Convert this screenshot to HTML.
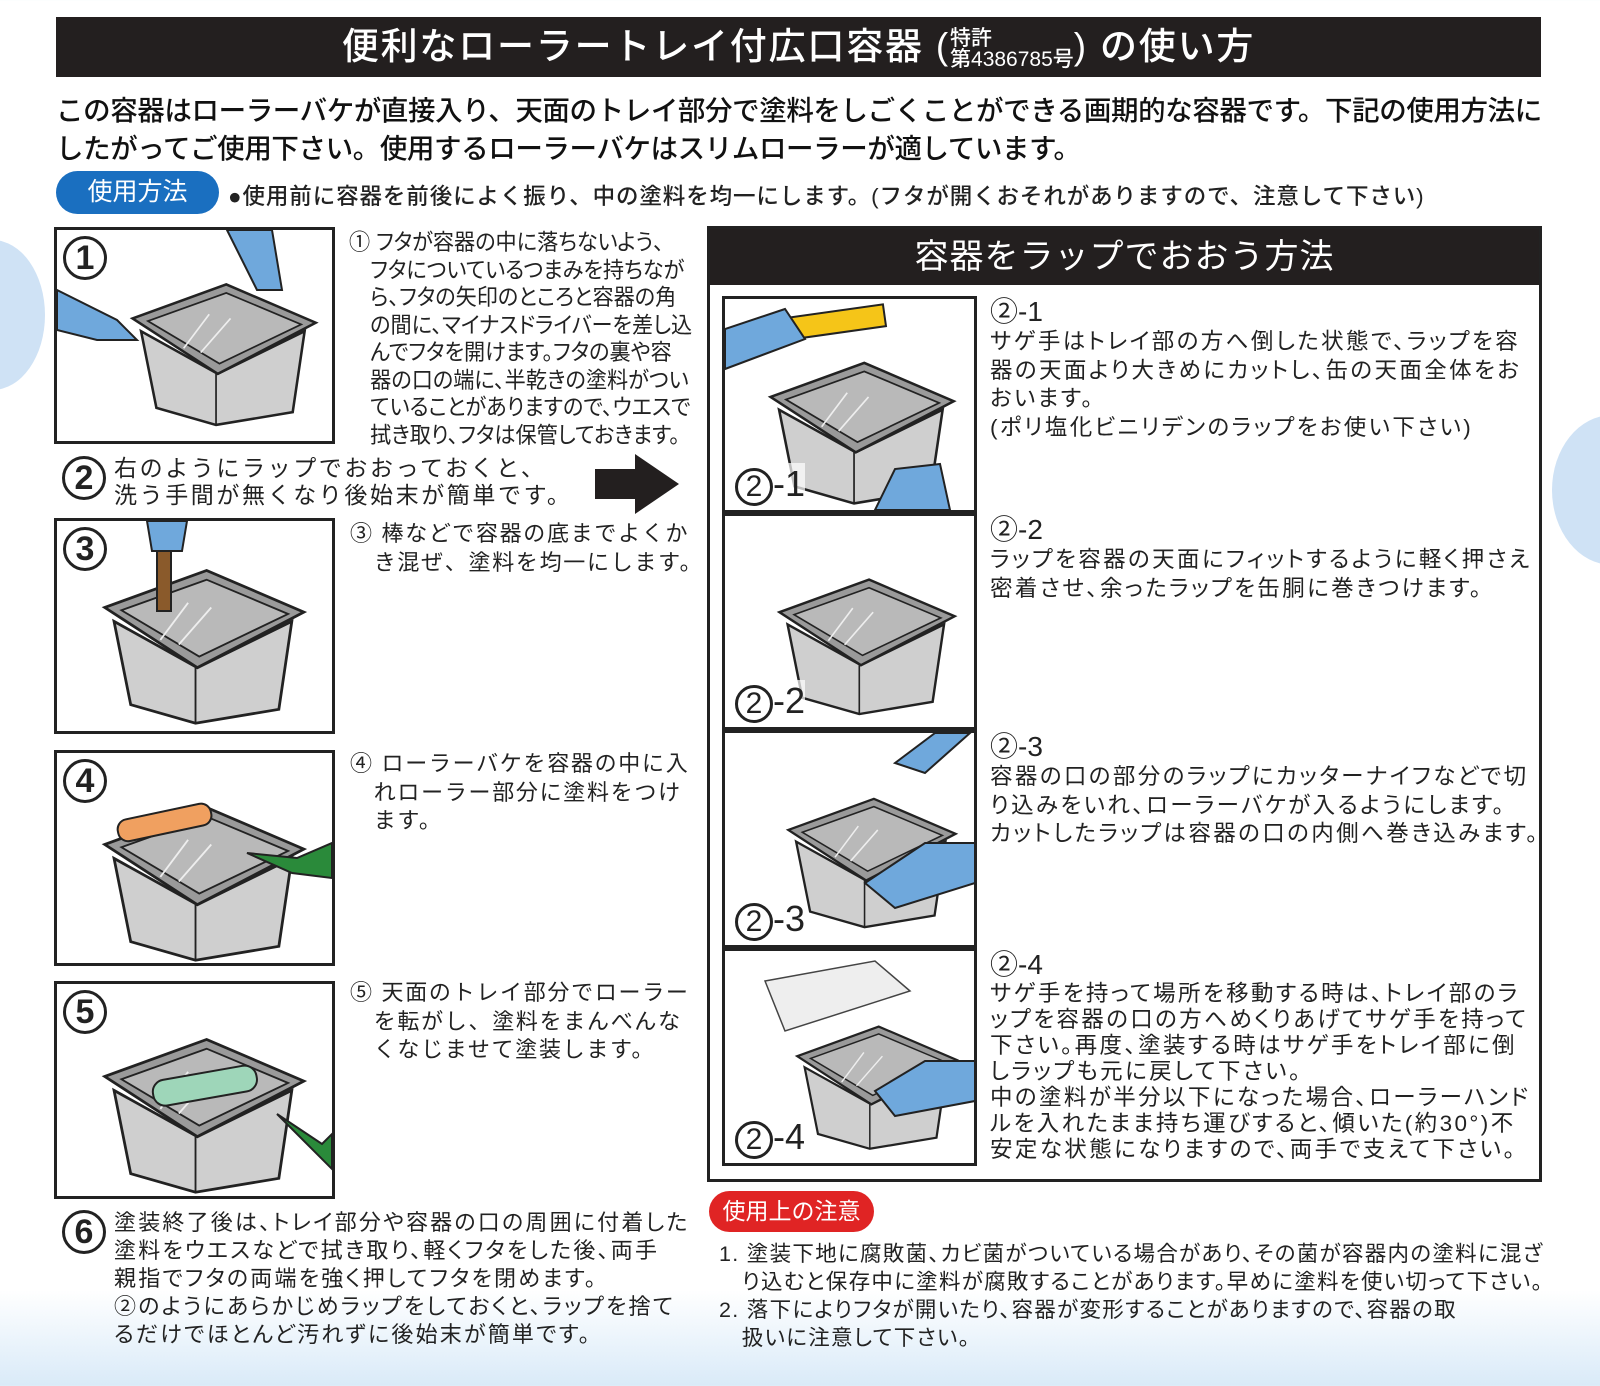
<!DOCTYPE html>
<html><head><meta charset="utf-8">
<style>
*{margin:0;padding:0;box-sizing:border-box}
body{width:1600px;height:1386px;position:relative;overflow:hidden;background:linear-gradient(#fff 0,#fff 1290px,#d9eaf8 1386px);font-family:"Liberation Sans","Noto Sans CJK JP",sans-serif;color:#222}
.a{position:absolute;white-space:nowrap}
.t{font-size:21.5px;line-height:28.5px;letter-spacing:.3px}
.box{position:absolute;border:3px solid #222;background:#fff;overflow:hidden}
.num{position:absolute;left:6px;top:6px;width:44px;height:44px;border:3px solid #222;border-radius:50%;background:#fff;font-size:34px;line-height:38px;text-align:center;font-weight:bold}
.cell{position:absolute;left:722px;width:255px;border:3px solid #222;background:#fff;overflow:hidden}
.lab{position:absolute;left:10px;bottom:4px;font-size:36px;font-weight:500;background:rgba(255,255,255,.7)}
.lab span{display:inline-block;width:38px;height:38px;border:3px solid #222;border-radius:50%;text-align:center;line-height:32px;font-size:30px}
h3{font-weight:400;font-size:28px;line-height:32px;letter-spacing:0}
.r{font-size:22.5px;letter-spacing:2.4px;font-feature-settings:"palt"}
.s{font-size:22px;letter-spacing:1.7px}
</style></head><body>
<svg width="0" height="0" style="position:absolute">
<symbol id="bk" viewBox="0 0 270 210">
<polygon points="40,100 130,150 232,100 218,195 128,210 58,190" fill="#cfcfcf" stroke="#222" stroke-width="3"/>
<polygon points="30,85 140,45 245,90 130,150" fill="#9a9a9a" stroke="#222" stroke-width="3"/>
<polygon points="48,88 140,55 228,92 132,138" fill="#b9b9b9" stroke="#222" stroke-width="2"/>
<line x1="128" y1="150" x2="128" y2="210" stroke="#222" stroke-width="2"/>
<line x1="90" y1="120" x2="120" y2="80" stroke="#eee" stroke-width="2"/>
<line x1="110" y1="125" x2="145" y2="85" stroke="#eee" stroke-width="2"/>
</symbol>
</svg>
<div style="position:absolute;left:-60px;top:240px;width:105px;height:150px;border-radius:50%;background:#cfe2f5"></div>
<div style="position:absolute;left:1552px;top:415px;width:120px;height:150px;border-radius:50%;background:#cfe2f5"></div>

<div class="a" style="left:56px;top:17px;width:1485px;height:60px;background:#231f1f;color:#fff;text-align:center;font-size:37px;letter-spacing:1.8px;line-height:60px;font-weight:500">便利なローラートレイ付広口容器 (<span style="display:inline-block;font-size:21px;line-height:21px;vertical-align:middle;text-align:left;letter-spacing:0">特許<br>第4386785号</span>) の使い方</div>

<div class="a" style="left:56px;top:92px;font-size:27.5px;letter-spacing:-.4px;line-height:38px;font-weight:500;color:#111">この容器はローラーバケが直接入り、天面のトレイ部分で塗料をしごくことができる画期的な容器です。下記の使用方法に<br>したがってご使用下さい。使用するローラーバケはスリムローラーが適しています。</div>

<div class="a" style="left:56px;top:171px;width:163px;height:43px;background:#1a6fc0;border-radius:22px;color:#fff;font-size:25px;line-height:43px;text-align:center">使用方法</div>
<div class="a" style="left:228px;top:179px;font-size:22.5px;letter-spacing:.9px;font-weight:500">●使用前に容器を前後によく振り、中の塗料を均一にします。(フタが開くおそれがありますので、注意して下さい)</div>

<div class="box" style="left:54px;top:227px;width:281px;height:217px"><svg width="275" height="211"><use href="#bk" x="50" y="0" width="230" height="211"/><path d="M170 0 L200 60 L225 60 L215 0Z" fill="#6fa8dc" stroke="#222" stroke-width="2"/><path d="M0 60 L60 90 L80 110 L40 110 L0 100Z" fill="#6fa8dc" stroke="#222" stroke-width="2"/></svg><div class="num">1</div></div>
<div class="a" style="left:349px;top:229px;font-size:22.5px;line-height:27.5px;transform:scaleX(.94);transform-origin:0 0;font-feature-settings:'palt'">① フタが容器の中に落ちないよう、<br>　フタについているつまみを持ちなが<br>　ら、フタの矢印のところと容器の角<br>　の間に、マイナスドライバーを差し込<br>　んでフタを開けます。フタの裏や容<br>　器の口の端に、半乾きの塗料がつい<br>　ていることがありますので、ウエスで<br>　拭き取り、フタは保管しておきます。</div>

<div class="a" style="left:62px;top:456px;width:44px;height:44px;border:3px solid #222;border-radius:50%;font-size:34px;line-height:38px;text-align:center;font-weight:bold">2</div>
<div class="a" style="left:114px;top:455px;font-size:23px;line-height:27px;letter-spacing:2.6px">右のようにラップでおおっておくと、<br>洗う手間が無くなり後始末が簡単です。</div>
<svg class="a" style="left:595px;top:454px" width="84" height="60"><polygon points="0,15 40,15 40,0 84,30 40,60 40,45 0,45" fill="#231f1f"/></svg>

<div class="box" style="left:54px;top:518px;width:281px;height:216px"><svg width="275" height="210"><use href="#bk" x="20" y="0" width="250" height="210"/><rect x="100" y="0" width="14" height="90" fill="#8a5a2b" stroke="#222" stroke-width="2"/><path d="M90 0 L130 0 L125 30 L95 30Z" fill="#6fa8dc" stroke="#222" stroke-width="2"/></svg><div class="num">3</div></div>
<div class="a t s" style="left:350px;top:520px">③ 棒などで容器の底までよくか<br>　き混ぜ、塗料を均一にします。</div>

<div class="box" style="left:54px;top:750px;width:281px;height:216px"><svg width="275" height="210"><use href="#bk" x="20" y="10" width="250" height="200"/><rect x="60" y="60" width="95" height="22" rx="10" fill="#f0a060" stroke="#222" stroke-width="2" transform="rotate(-12 100 70)"/><path d="M190 100 L240 105 L275 90 L275 125 L235 120Z" fill="#2a8a3a" stroke="#222" stroke-width="2"/></svg><div class="num">4</div></div>
<div class="a t s" style="left:350px;top:750px">④ ローラーバケを容器の中に入<br>　れローラー部分に塗料をつけ<br>　ます。</div>

<div class="box" style="left:54px;top:981px;width:281px;height:218px"><svg width="275" height="212"><use href="#bk" x="20" y="10" width="250" height="202"/><rect x="95" y="90" width="105" height="26" rx="12" fill="#9ed6b9" stroke="#222" stroke-width="2" transform="rotate(-10 140 100)"/><path d="M220 130 L265 160 L275 150 L275 185Z" fill="#2a8a3a" stroke="#222" stroke-width="2"/></svg><div class="num">5</div></div>
<div class="a t s" style="left:350px;top:979px">⑤ 天面のトレイ部分でローラー<br>　を転がし、塗料をまんべんな<br>　くなじませて塗装します。</div>

<div class="a" style="left:62px;top:1210px;width:44px;height:44px;border:3px solid #222;border-radius:50%;font-size:34px;line-height:38px;text-align:center;font-weight:bold">6</div>
<div class="a t" style="left:114px;top:1209px;font-size:22px;line-height:28px;letter-spacing:2.2px;font-feature-settings:'palt'">塗装終了後は、トレイ部分や容器の口の周囲に付着した<br>塗料をウエスなどで拭き取り、軽くフタをした後、両手<br>親指でフタの両端を強く押してフタを閉めます。<br>②のようにあらかじめラップをしておくと、ラップを捨て<br>るだけでほとんど汚れずに後始末が簡単です。</div>

<div style="position:absolute;left:707px;top:226px;width:835px;height:956px;border:3px solid #222;background:#fff">
<div style="height:56px;background:#231f1f;color:#fff;text-align:center;font-size:34px;line-height:56px;letter-spacing:1px">容器をラップでおおう方法</div>
</div>
<div class="cell" style="top:296px;height:217px"><svg width="250" height="211"><use href="#bk" x="20" y="20" width="230" height="190"/><rect x="25" y="15" width="135" height="22" fill="#f5c518" stroke="#222" stroke-width="2" transform="rotate(-8 90 25)"/><path d="M0 30 L60 10 L80 40 L0 70Z" fill="#6fa8dc" stroke="#222" stroke-width="2"/><path d="M150 211 L170 170 L215 165 L225 211Z" fill="#6fa8dc" stroke="#222" stroke-width="2"/></svg><div class="lab"><span>2</span>-1</div></div>
<div class="cell" style="top:513px;height:217px"><svg width="250" height="211"><use href="#bk" x="30" y="20" width="220" height="185"/></svg><div class="lab"><span>2</span>-2</div></div>
<div class="cell" style="top:730px;height:218px"><svg width="250" height="212"><use href="#bk" x="40" y="20" width="210" height="185"/><path d="M140 150 L200 110 L250 110 L250 150 L170 175Z" fill="#6fa8dc" stroke="#222" stroke-width="2"/><path d="M170 30 L210 0 L245 0 L200 40Z" fill="#6fa8dc" stroke="#222" stroke-width="2"/></svg><div class="lab"><span>2</span>-3</div></div>
<div class="cell" style="top:948px;height:218px"><svg width="250" height="212"><path d="M40 30 L150 10 L185 40 L60 80Z" fill="#eee" stroke="#444" stroke-width="1.5"/><use href="#bk" x="50" y="30" width="200" height="180"/><path d="M150 140 L200 110 L250 110 L250 150 L170 165Z" fill="#6fa8dc" stroke="#222" stroke-width="2"/></svg><div class="lab"><span>2</span>-4</div></div>

<div class="a t r" style="left:990px;top:296px"><h3>②-1</h3>サゲ手はトレイ部の方へ倒した状態で、ラップを容<br>器の天面より大きめにカットし、缶の天面全体をお<br>おいます。<br>(ポリ塩化ビニリデンのラップをお使い下さい)</div>
<div class="a t r" style="left:990px;top:514px"><h3>②-2</h3>ラップを容器の天面にフィットするように軽く押さえ<br>密着させ、余ったラップを缶胴に巻きつけます。</div>
<div class="a t r" style="left:990px;top:731px"><h3>②-3</h3>容器の口の部分のラップにカッターナイフなどで切<br>り込みをいれ、ローラーバケが入るようにします。<br>カットしたラップは容器の口の内側へ巻き込みます。</div>
<div class="a t r" style="left:990px;top:949px;line-height:26px"><h3>②-4</h3>サゲ手を持って場所を移動する時は、トレイ部のラ<br>ップを容器の口の方へめくりあげてサゲ手を持って<br>下さい。再度、塗装する時はサゲ手をトレイ部に倒<br>しラップも元に戻して下さい。<br>中の塗料が半分以下になった場合、ローラーハンド<br>ルを入れたまま持ち運びすると、傾いた(約30°)不<br>安定な状態になりますので、両手で支えて下さい。</div>

<div class="a" style="left:709px;top:1191px;width:165px;height:41px;background:#e02424;border-radius:21px;color:#fff;font-size:23px;line-height:41px;text-align:center">使用上の注意</div>
<div class="a t" style="left:719px;top:1241px;letter-spacing:1.3px;line-height:27.9px;font-feature-settings:'palt'">1. 塗装下地に腐敗菌、カビ菌がついている場合があり、その菌が容器内の塗料に混ざ<br>　り込むと保存中に塗料が腐敗することがあります。早めに塗料を使い切って下さい。<br>2. 落下によりフタが開いたり、容器が変形することがありますので、容器の取<br>　扱いに注意して下さい。</div>
</body></html>
